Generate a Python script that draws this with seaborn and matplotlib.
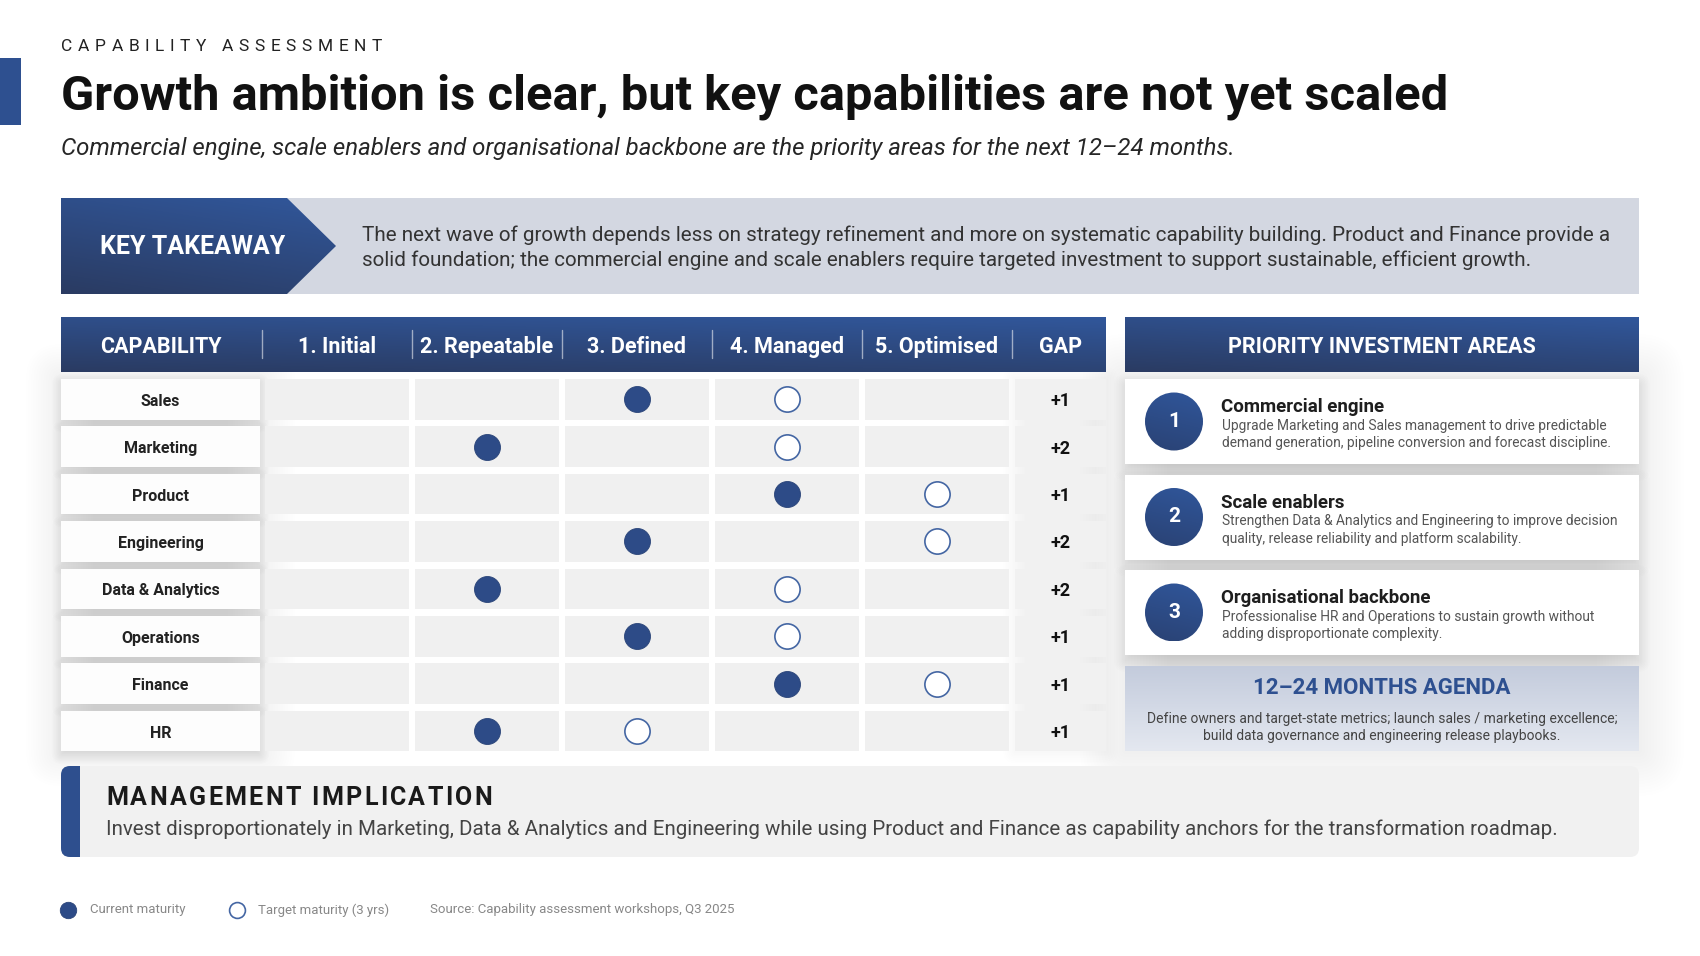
import matplotlib
matplotlib.use('Agg')
import matplotlib.pyplot as plt
import matplotlib.transforms as mtransforms
from matplotlib import font_manager
from matplotlib.colors import to_rgb
from matplotlib.patches import Rectangle, FancyBboxPatch, Polygon, Circle
import numpy as np
import pandas as pd
import seaborn as sns

# ---------------------------------------------------------------------------
# data
# ---------------------------------------------------------------------------
capabilities = ['Sales', 'Marketing', 'Product', 'Engineering',
                'Data & Analytics', 'Operations', 'Finance', 'HR']
current_level = [3, 2, 4, 3, 2, 3, 4, 2]
target_level = [4, 4, 5, 5, 4, 4, 5, 3]
gap_values = [1, 2, 1, 2, 2, 1, 1, 1]
level_labels = ['1. Initial', '2. Repeatable', '3. Defined', '4. Managed', '5. Optimised']

priority_titles = ['Commercial engine', 'Scale enablers', 'Organisational backbone']
priority_lines = [
    ['Upgrade Marketing and Sales management to drive predictable',
     'demand generation, pipeline conversion and forecast discipline.'],
    ['Strengthen Data & Analytics and Engineering to improve decision',
     'quality, release reliability and platform scalability.'],
    ['Professionalise HR and Operations to sustain growth without',
     'adding disproportionate complexity.'],
]
agenda_lines = ['Define owners and target-state metrics; launch sales / marketing excellence;',
                'build data governance and engineering release playbooks.']
takeaway_lines = [
    'The next wave of growth depends less on strategy refinement and more on systematic '
    'capability building. Product and Finance provide a',
    'solid foundation; the commercial engine and scale enablers require targeted investment '
    'to support sustainable, efficient growth.',
]

# ---------------------------------------------------------------------------
# styling
# ---------------------------------------------------------------------------
W, H = 1700, 956
NAVY_TOP = '#31579B'
NAVY_BOT = '#2A3B62'
DOT = '#2D4B87'
RING = '#4466A3'

sns.set_theme(style='white')
names = {f.name for f in font_manager.fontManager.ttflist}


def pick(*cands):
    for c in cands:
        if c in names:
            return c
    return 'DejaVu Sans'


NARROW = pick('Liberation Sans Narrow', 'Roboto', 'Lato')
BODY = pick('Roboto', 'Lato', 'Open Sans')
plt.rcParams['font.family'] = [BODY, 'DejaVu Sans']

fig = plt.figure(figsize=(W / 100, H / 100), dpi=100)
fig.patch.set_facecolor('white')
R = fig.canvas.get_renderer()

bg = fig.add_axes([0, 0, 1, 1])
bg.set_axis_off()
bg.set_zorder(0)
bg.set_xlim(0, W)
bg.set_ylim(H, 0)


def fit(t, width):
    w = t.get_window_extent(renderer=R).width
    t.set_fontsize(t.get_fontsize() * width / w)
    return t.get_fontsize()


def tracked(ax, x, y, s, width, fontsize, **kw):
    arts, ws = [], []
    for ch in s:
        if ch == ' ':
            arts.append(None)
            ws.append(0)
        else:
            t = ax.text(x, y, ch, ha='left', fontsize=fontsize, **kw)
            arts.append(t)
            ws.append(t.get_window_extent(renderer=R).width)
    space = 0.25 * fontsize / 0.72
    natural = sum(ws) + s.count(' ') * space
    track = (width - natural) / (len(s) - 1)
    cx = x
    for t, w in zip(arts, ws):
        if t is None:
            cx += space + track
        else:
            t.set_x(cx)
            cx += w + track


def grad_patch(ax, patch, extent, c_top, c_bot, skew=0.3, z=4):
    x0, x1, y0, y1 = extent
    patch.set_facecolor('none')
    patch.set_edgecolor('none')
    patch.set_zorder(z)
    ax.add_patch(patch)
    n = 128
    X, Y = np.meshgrid(np.linspace(0, 1, n), np.linspace(0, 1, n))
    t = np.clip(Y * (1 - skew) + (1 - X) * skew, 0, 1)[..., None]
    img = np.array(to_rgb(c_top)) * (1 - t) + np.array(to_rgb(c_bot)) * t
    im = ax.imshow(img, extent=(x0, x1, y1, y0), origin='upper', aspect='auto',
                   zorder=z, interpolation='bilinear')
    im.set_clip_path(patch)


def shadow(ax, x, y, w, h, blur=10, dy=4, alpha=0.15, steps=16, z=2):
    # stacked translucent boxes, half of them inset so the edge fades smoothly
    for s in range(steps):
        p = blur * (steps - s) / steps - blur / 2
        rs = max(p, 0) + 1
        ax.add_patch(FancyBboxPatch((x - p, y + dy - p), w + 2 * p, h + 2 * p,
                                    boxstyle=f'round,pad=0,rounding_size={rs:.2f}',
                                    fc='black', ec='none', alpha=alpha / steps, zorder=z))


# ---------------------------------------------------------------------------
# title block
# ---------------------------------------------------------------------------
bg.add_patch(Rectangle((0, 58), 21, 67, fc='#2E5090', ec='none', zorder=3))
tracked(bg, 61, 50.5, 'CAPABILITY ASSESSMENT', 321, 12.5, color='#222222',
        va='baseline', family=[BODY, 'DejaVu Sans'], zorder=6)

t = bg.text(61, 109, 'Growth ambition is clear, but key capabilities are not yet scaled',
            fontsize=34, fontweight='bold', family=[NARROW, 'DejaVu Sans'],
            color='#111111', va='baseline', ha='left', zorder=6)
fit(t, 1387)

t = bg.text(61, 155, 'Commercial engine, scale enablers and organisational backbone are '
            'the priority areas for the next 12\u201324 months.',
            fontsize=15, fontstyle='italic', color='#262626',
            va='baseline', ha='left', zorder=6)
fit(t, 1176)

# ---------------------------------------------------------------------------
# key takeaway band
# ---------------------------------------------------------------------------
bg.add_patch(Rectangle((61, 198), 1578, 96, fc='#D3D7E1', ec='none', zorder=3))
grad_patch(bg, Polygon([(61, 198), (287, 198), (336, 246), (287, 294), (61, 294)]),
           (61, 336, 198, 294), NAVY_TOP, NAVY_BOT)
bg.text(193, 247, 'KEY TAKEAWAY', fontsize=18, fontweight='bold', color='white',
        family=[NARROW, 'DejaVu Sans'], ha='center', va='center', zorder=6)
t1 = bg.text(362, 235, takeaway_lines[0], fontsize=14, color='#333333',
             ha='left', va='center', zorder=6)
fs = fit(t1, 1255)
bg.text(362, 260, takeaway_lines[1], fontsize=fs, color='#333333',
        ha='left', va='center', zorder=6)

# ---------------------------------------------------------------------------
# maturity table: header + cells
# ---------------------------------------------------------------------------
ROW0, ROW_P, ROW_H = 379.0, 47.4, 40.5
COL0, COL_P, COL_W = 265.0, 150.0, 144.0
n_rows = len(capabilities)
table_bottom = ROW0 + ROW_P * (n_rows - 1) + ROW_H

grad_patch(bg, Rectangle((61, 317), 1045, 55), (61, 1106, 317, 372), NAVY_TOP, NAVY_BOT)
head_kw = dict(fontsize=15.5, fontweight='bold', color='white', family=[NARROW, 'DejaVu Sans'],
               ha='center', va='center', zorder=6)
HEAD_Y = 347
bg.text(160.5, HEAD_Y, 'CAPABILITY', **head_kw)
for k, lab in enumerate(level_labels):
    bg.text(COL0 + COL_W / 2 + k * COL_P, HEAD_Y, lab, **head_kw)
bg.text(1060.5, HEAD_Y, 'GAP', **head_kw)
for k in range(len(level_labels) + 1):
    xs = COL0 - 3 + k * COL_P
    bg.plot([xs, xs], [330, 358], color='white', alpha=0.55, lw=1, zorder=6)

shadow(bg, 61, ROW0, 199, table_bottom - ROW0, blur=70, dy=0, alpha=0.09, steps=28, z=1)
shadow(bg, 1015, ROW0, 91, table_bottom - ROW0, blur=24, dy=0, alpha=0.05, steps=14, z=1)
for i in range(n_rows):
    y = ROW0 + i * ROW_P
    shadow(bg, 61, y, 199, ROW_H, blur=18, dy=4, alpha=0.12)
    bg.add_patch(Rectangle((61, y), 199, ROW_H, fc='#FDFDFD', ec='none', zorder=3))
    for k in range(len(level_labels)):
        bg.add_patch(Rectangle((COL0 + k * COL_P, y), COL_W, ROW_H,
                               fc='#F0F0F0', ec='none', zorder=3))
    bg.add_patch(Rectangle((1015, y), 91, ROW_H, fc='#F1F1F1', ec='none', zorder=3))

# matrix axes: x = maturity level, y = capability (categorical)
top_px = ROW0 + ROW_H / 2 - ROW_P / 2
bot_px = top_px + ROW_P * n_rows
left_px = COL0 + COL_W / 2 - COL_P / 2
right_px = left_px + COL_P * len(level_labels)
mx = fig.add_axes([left_px / W, 1 - bot_px / H, (right_px - left_px) / W, (bot_px - top_px) / H])
mx.set_zorder(1)
mx.patch.set_visible(False)

df = pd.DataFrame({'capability': capabilities, 'current': current_level,
                   'target': target_level, 'gap': gap_values})
sns.scatterplot(data=df, x='target', y='capability', ax=mx, s=330, color='white',
                edgecolor=RING, linewidth=1.2, legend=False, zorder=4)
sns.scatterplot(data=df, x='current', y='capability', ax=mx, s=350, color=DOT,
                edgecolor='#2A4478', linewidth=0.6, legend=False, zorder=5)
mx.set_xlim(0.5, len(level_labels) + 0.5)
mx.set_ylim(n_rows - 0.5, -0.5)
mx.set_axis_off()

blend = (mtransforms.blended_transform_factory(bg.transData, mx.transData)
         + mtransforms.Affine2D().translate(0, -2))
for cap, g in zip(df['capability'], df['gap']):
    mx.text(160.5, cap, cap, transform=blend, fontsize=11.5, fontweight='bold',
            color='#222222', family=[NARROW, 'DejaVu Sans'], ha='center', va='center',
            clip_on=False, zorder=6)
    mx.text(1060.5, cap, f'+{g}', transform=blend, fontsize=13, fontweight='bold',
            color='#111111', family=[NARROW, 'DejaVu Sans'], ha='center', va='center',
            clip_on=False, zorder=6)

# ---------------------------------------------------------------------------
# priority investment areas
# ---------------------------------------------------------------------------
PX0, PX1 = 1125, 1639
grad_patch(bg, Rectangle((PX0, 317), PX1 - PX0, 55), (PX0, PX1, 317, 372), NAVY_TOP, NAVY_BOT)
bg.text((PX0 + PX1) / 2, HEAD_Y, 'PRIORITY INVESTMENT AREAS', **head_kw)

shadow(bg, PX0, 379, PX1 - PX0, 372, blur=90, dy=0, alpha=0.08, steps=30, z=1)
CARD_P, CARD_H = 95.5, 85

probe = bg.text(0, 0, priority_lines[1][0], fontsize=10)
desc_fs = 10 * 396 / probe.get_window_extent(renderer=R).width
probe.remove()

for k, (title, lines) in enumerate(zip(priority_titles, priority_lines)):
    top = 379 + k * CARD_P
    shadow(bg, PX0, top, PX1 - PX0, CARD_H, blur=22, dy=6, alpha=0.12)
    bg.add_patch(Rectangle((PX0, top), PX1 - PX0, CARD_H, fc='white', ec='none', zorder=3))
    cy = top + CARD_H / 2
    grad_patch(bg, Circle((1174, cy), 29), (1145, 1203, cy - 29, cy + 29),
               '#30569A', '#2A4274', skew=0.2)
    bg.text(1174, cy, str(k + 1), fontsize=15, fontweight='bold', color='white',
            family=[NARROW, 'DejaVu Sans'], ha='center', va='center', zorder=6)
    bg.text(1221, top + 28, title, fontsize=13.5, fontweight='bold', color='#1E1E1E',
            family=[NARROW, 'DejaVu Sans'], ha='left', va='center', zorder=6)
    for j, line in enumerate(lines):
        bg.text(1222, top + 47 + 17 * j, line, fontsize=desc_fs, color='#555555',
                ha='left', va='center', zorder=6)

atop = 379 + 3 * CARD_P
grad_patch(bg, Rectangle((PX0, atop), PX1 - PX0, 751 - atop), (PX0, PX1, atop, 751),
           '#C3CBDC', '#E4E8F0', skew=0.0, z=3)
bg.text((PX0 + PX1) / 2, 688, '12\u201324 MONTHS AGENDA', fontsize=16, fontweight='bold',
        color='#2E5090', family=[NARROW, 'DejaVu Sans'], ha='center', va='center', zorder=6)
a1 = bg.text((PX0 + PX1) / 2, 719, agenda_lines[0], fontsize=10, color='#444444',
             ha='center', va='center', zorder=6)
afs = fit(a1, 470)
bg.text((PX0 + PX1) / 2, 736, agenda_lines[1], fontsize=afs, color='#444444',
        ha='center', va='center', zorder=6)

# ---------------------------------------------------------------------------
# management implication
# ---------------------------------------------------------------------------
bg.add_patch(FancyBboxPatch((61, 766), 1578, 91, boxstyle='round,pad=0,rounding_size=9',
                            fc='#F1F1F1', ec='none', zorder=3))
acc = FancyBboxPatch((61, 766), 40, 91, boxstyle='round,pad=0,rounding_size=9',
                     fc='#2E4F8E', ec='none', zorder=4)
bg.add_patch(acc)
acc.set_clip_path(Rectangle((61, 766), 19, 91, transform=bg.transData))
tracked(bg, 106, 805, 'MANAGEMENT IMPLICATION', 386, 18, color='#1A1A1A',
        fontweight='bold', family=[NARROW, 'DejaVu Sans'], va='baseline', zorder=6)
t = bg.text(106, 829, 'Invest disproportionately in Marketing, Data & Analytics and Engineering '
            'while using Product and Finance as capability anchors for the transformation roadmap.',
            fontsize=14, color='#444444', ha='left', va='center', zorder=6)
fit(t, 1462)

# ---------------------------------------------------------------------------
# legend + source
# ---------------------------------------------------------------------------
bg.scatter([68], [910], s=140, color=DOT, edgecolor='#2A4478', linewidth=0.6, zorder=6)
bg.scatter([237], [910], s=130, color='white', edgecolor=RING, linewidth=1.2, zorder=6)
leg_kw = dict(fontsize=9.5, color='#888888', ha='left', va='center', zorder=6)
bg.text(90, 910, 'Current maturity', **leg_kw)
bg.text(258, 910, 'Target maturity (3 yrs)', **leg_kw)
bg.text(430, 910, 'Source: Capability assessment workshops, Q3 2025', **leg_kw)

bg.set_xlim(0, W)
bg.set_ylim(H, 0)
fig.savefig('out.png', dpi=100, facecolor='white')
